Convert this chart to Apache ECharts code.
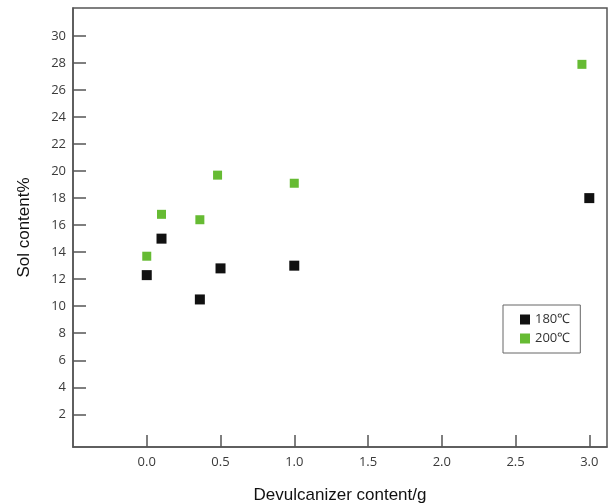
<!DOCTYPE html>
<html>
<head>
<meta charset="utf-8">
<script src="https://cdn.jsdelivr.net/npm/echarts@6/dist/echarts.min.js"></script>
<style>
  html, body { margin: 0; padding: 0; background: #fff; }
  #chart { width: 614px; height: 504px; }
</style>
</head>
<body>
<div id="chart"></div>
<script>
// data
const xTicks = [0, 0.5, 1, 1.5, 2, 2.5, 3]
const yTicks = [2, 4, 6, 8, 10, 12, 14, 16, 18, 20, 22, 24, 26, 28, 30]

const x180 = [0, 0.1, 0.36, 0.5, 1.0, 3.0]
const y180 = [12.3, 15.0, 10.5, 12.8, 13.0, 18.0]

const x200 = [0, 0.1, 0.36, 0.48, 1.0, 2.95]
const y200 = [13.7, 16.8, 16.4, 19.7, 19.1, 27.9]

const axisColor = '#555'
const labelColor = '#3a3a3a'

const chart = echarts.init(document.getElementById('chart'))

const toPairs = (xs, ys) => xs.map((x, i) => [x, ys[i]])

chart.setOption({
  animation: false,
  grid: {
    left: 73, top: 8, right: 7, bottom: 57,
    containLabel: false,
    outerBoundsMode: 'none',
    show: true,
    borderColor: axisColor,
    borderWidth: 1.5
  },
  legend: {
    orient: 'vertical',
    left: 503, top: 305,
    width: 89,
    padding: [8, 10, 8, 17],
    itemGap: 6,
    itemWidth: 10, itemHeight: 10,
    borderColor: '#666',
    borderWidth: 1,
    textStyle: { fontFamily: 'Open Sans', fontSize: 13, color: '#333', letterSpacing: -1 },
    data: [
      { name: '180℃', icon: 'rect', itemStyle: { color: '#111' } },
      { name: '200℃', icon: 'rect', itemStyle: { color: '#66bb33' } }
    ]
  },
  xAxis: {
    type: 'value',
    min: -0.5, max: 3.12,
    name: 'Devulcanizer content/g',
    nameLocation: 'middle',
    nameGap: 40,
    nameTextStyle: { fontFamily: 'Liberation Sans', fontSize: 17, color: '#111' },
    splitLine: { show: false },
    axisLine: { show: true, onZero: false, lineStyle: { color: axisColor, width: 1.5 } },
    axisTick: { show: true, inside: true, length: 12, customValues: xTicks, lineStyle: { color: axisColor, width: 1.5 } },
    axisLabel: {
      customValues: xTicks,
      margin: 9,
      fontFamily: 'Open Sans', fontSize: 13, color: labelColor,
      formatter: v => v.toFixed(1)
    }
  },
  yAxis: {
    type: 'value',
    min: -0.42, max: 32.07,
    name: 'Sol content%',
    nameLocation: 'middle',
    nameGap: 40,
    nameTextStyle: { fontFamily: 'Liberation Sans', fontSize: 17, color: '#111' },
    splitLine: { show: false },
    axisLine: { show: true, onZero: false, lineStyle: { color: axisColor, width: 1.5 } },
    axisTick: { show: true, inside: true, length: 13, customValues: yTicks, lineStyle: { color: axisColor, width: 1.5 } },
    axisLabel: {
      customValues: yTicks,
      margin: 7,
      fontFamily: 'Open Sans', fontSize: 13, color: labelColor
    }
  },
  series: [
    {
      name: '180℃',
      type: 'scatter',
      symbol: 'rect',
      symbolSize: 10,
      itemStyle: { color: '#111', opacity: 1 },
      data: toPairs(x180, y180)
    },
    {
      name: '200℃',
      type: 'scatter',
      symbol: 'rect',
      symbolSize: 9,
      itemStyle: { color: '#66bb33', opacity: 1 },
      data: toPairs(x200, y200)
    }
  ]
})
</script>
</body>
</html>
